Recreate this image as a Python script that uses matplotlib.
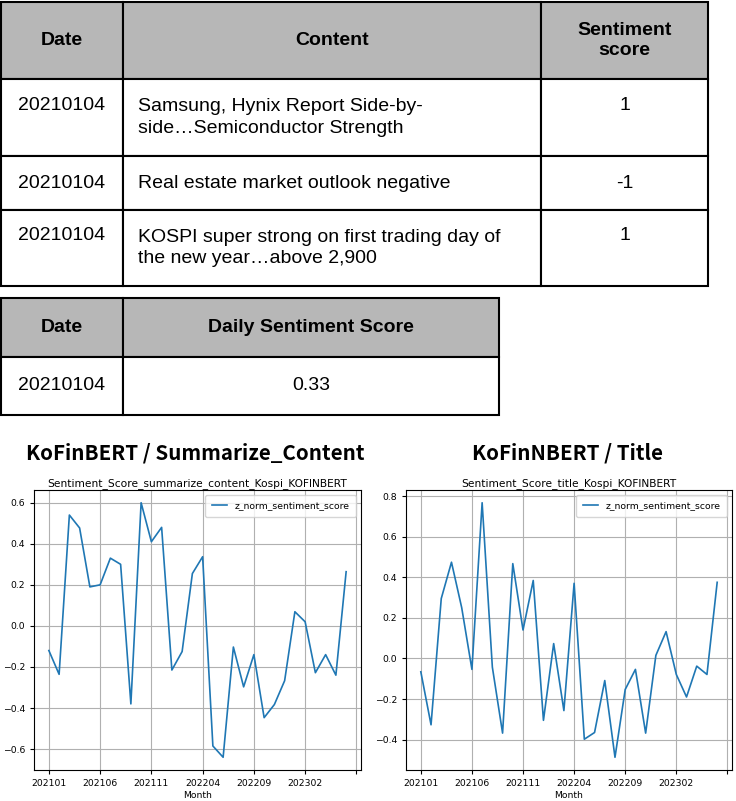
import matplotlib
matplotlib.use("Agg")
import matplotlib.pyplot as plt
from matplotlib.patches import Rectangle

# month labels 202101 .. 202306
months = [f"{y}{m:02d}" for y in (2021, 2022, 2023) for m in range(1, 13)][:30]

summ_scores = [-0.12, -0.236, 0.54, 0.477, 0.19, 0.20, 0.33, 0.30, -0.38, 0.60,
               0.41, 0.48, -0.215, -0.125, 0.255, 0.337, -0.585, -0.64, -0.103, -0.297,
               -0.14, -0.447, -0.383, -0.267, 0.069, 0.02, -0.228, -0.14, -0.24, 0.264]
title_scores = [-0.066, -0.327, 0.295, 0.474, 0.25, -0.054, 0.767, -0.043, -0.368, 0.467,
                0.14, 0.384, -0.305, 0.073, -0.257, 0.37, -0.398, -0.365, -0.109, -0.487,
                -0.153, -0.054, -0.368, 0.015, 0.132, -0.079, -0.19, -0.038, -0.079, 0.375]

news_header = ["Date", "Content", "Sentiment\nscore"]
news_rows = [
    ["20210104", "Samsung, Hynix Report Side-by-\nside…Semiconductor Strength", "1"],
    ["20210104", "Real estate market outlook negative", "-1"],
    ["20210104", "KOSPI super strong on first trading day of\nthe new year…above 2,900", "1"],
]
daily_header = ["Date", "Daily Sentiment Score"]
daily_rows = [["20210104", "0.33"]]

W, H = 736, 801
fig = plt.figure(figsize=(W / 100, H / 100), dpi=100)

# overlay in pixel coords for the tables and big titles
bg = fig.add_axes([0, 0, 1, 1])
bg.set_xlim(0, W)
bg.set_ylim(H, 0)
bg.axis("off")

tfont = "Liberation Sans"


def draw_table(cols, row_edges, header, rows, aligns):
    for r in range(len(row_edges) - 1):
        y0, y1 = row_edges[r], row_edges[r + 1]
        cells = header if r == 0 else rows[r - 1]
        multi = any("\n" in s for s in cells)
        for c in range(len(cols) - 1):
            x0, x1 = cols[c], cols[c + 1]
            fc = "#b7b7b7" if r == 0 else "white"
            bg.add_patch(Rectangle((x0, y0), x1 - x0, y1 - y0, facecolor=fc,
                                   edgecolor="black", linewidth=1.5))
            txt = cells[c]
            yc = (y0 + y1) / 2
            if r == 0:
                bg.text((x0 + x1) / 2, yc, txt, ha="center", va="center",
                        fontsize=14, fontweight="bold", family=tfont, linespacing=1.3)
            elif aligns[c] == "left":
                bg.text(x0 + 15, yc, txt, ha="left", va="center",
                        fontsize=14, family=tfont, linespacing=1.35)
            else:
                # single-line cells in a two-line row sit on the first line
                if multi and "\n" not in txt:
                    yc -= 12
                bg.text((x0 + x1) / 2, yc, txt, ha="center", va="center",
                        fontsize=14, family=tfont)


draw_table([1, 123, 541, 708], [2, 79, 156, 210, 286], news_header, news_rows,
           ["center", "left", "center"])
draw_table([1, 123, 499], [298, 357, 415], daily_header, daily_rows,
           ["center", "center"])

bg.text(195, 453, "KoFinBERT / Summarize_Content", ha="center", va="center",
        fontsize=14.8, fontweight="heavy", family="Noto Sans CJK KR")
bg.text(567, 453, "KoFinNBERT / Title", ha="center", va="center",
        fontsize=14.8, fontweight="heavy", family="Noto Sans CJK KR")


def line_panel(rect, values, title):
    ax = fig.add_axes(rect)
    x = list(range(len(values)))
    ax.plot(x, values, color="#1f77b4", linewidth=1.2, label="z_norm_sentiment_score")
    ax.set_title(title, fontsize=7.7, pad=3)
    ticks = list(range(0, len(values) + 1, 5))
    ax.set_xticks(ticks)
    ax.set_xticklabels([months[t] if t < len(months) else "" for t in ticks])
    ax.tick_params(labelsize=6.7, length=3)
    ax.set_xlabel("Month", fontsize=6.7, labelpad=2)
    ax.grid(True, color="#b0b0b0", linewidth=0.8)
    ax.legend(loc="upper right", fontsize=6.7, handlelength=1.7, borderpad=0.7)
    return ax


line_panel([34 / W, 1 - 770 / H, (361 - 34) / W, (770 - 490) / H], summ_scores,
           "Sentiment_Score_summarize_content_Kospi_KOFINBERT")
line_panel([406 / W, 1 - 770 / H, (732 - 406) / W, (770 - 490) / H], title_scores,
           "Sentiment_Score_title_Kospi_KOFINBERT")

fig.savefig("out.png", dpi=100)
